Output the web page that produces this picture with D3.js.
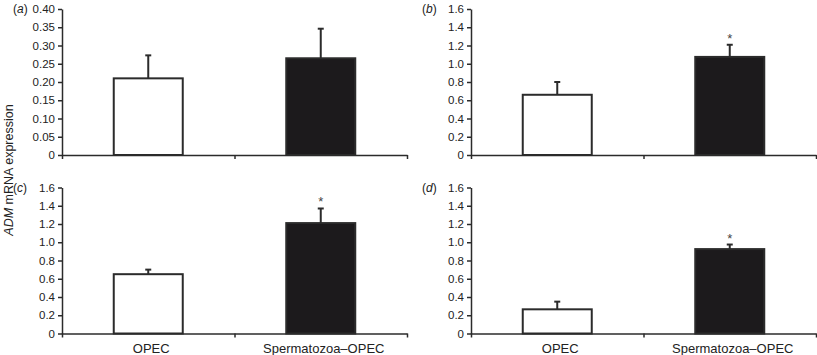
<!DOCTYPE html>
<html>
<head>
<meta charset="utf-8">
<script src="https://cdn.jsdelivr.net/npm/d3@7"></script>
<style>
  body { margin: 0; background: #fff; }
  svg { display: block; font-family: "Liberation Sans", Arial, Helvetica, sans-serif; }
</style>
</head>
<body>
<svg id="chart" width="817" height="355"></svg>
<script>
// data
const categories = ["OPEC", "Spermatozoa\u2013OPEC"];
const panelLabels = ["a", "b", "c", "d"];
const meansA = [0.21, 0.265];
const errA   = [0.063, 0.081];
const meansB = [0.66, 1.075];
const errB   = [0.14, 0.133];
const meansC = [0.65, 1.21];
const errC   = [0.05, 0.16];
const meansD = [0.265, 0.925];
const errD   = [0.084, 0.05];
const starsA = [false, false];
const starsB = [false, true];
const starsC = [false, true];
const starsD = [false, true];
const yTicksA = [0, 0.05, 0.10, 0.15, 0.20, 0.25, 0.30, 0.35, 0.40];
const yTicksBCD = [0, 0.2, 0.4, 0.6, 0.8, 1.0, 1.2, 1.4, 1.6];
const yTitle = ["ADM", " mRNA expression"];

const ink = "#2b2b2b";
const svg = d3.select("#chart");

const panels = [
  { label: panelLabels[0], means: meansA, err: errA, stars: starsA, ticks: yTicksA, fmt: d => d === 0 ? "0" : d3.format(".2f")(d), x0: 62,  y0: 9,     xLabels: false },
  { label: panelLabels[1], means: meansB, err: errB, stars: starsB, ticks: yTicksBCD, fmt: d => d === 0 ? "0" : d3.format(".1f")(d), x0: 471, y0: 9,     xLabels: false },
  { label: panelLabels[2], means: meansC, err: errC, stars: starsC, ticks: yTicksBCD, fmt: d => d === 0 ? "0" : d3.format(".1f")(d), x0: 62,  y0: 187.5, xLabels: true },
  { label: panelLabels[3], means: meansD, err: errD, stars: starsD, ticks: yTicksBCD, fmt: d => d === 0 ? "0" : d3.format(".1f")(d), x0: 471, y0: 187.5, xLabels: true }
];
const pw = 345, ph = 146;

panels.forEach(p => {
  const g = svg.append("g").attr("transform", `translate(${p.x0},${p.y0})`);

  const x = d3.scaleBand().domain(categories).range([0, pw])
    .paddingInner(0.6).paddingOuter(0.3);
  const xEdge = d3.scaleLinear().domain([0, categories.length]).range([0, pw]);
  const y = d3.scaleLinear().domain([0, d3.max(p.ticks)]).range([ph, 0]);

  // y axis
  const gy = g.append("g")
    .call(d3.axisLeft(y).tickValues(p.ticks).tickFormat(p.fmt).tickSize(4).tickPadding(3).tickSizeOuter(0));
  gy.select(".domain").attr("stroke", ink).attr("stroke-width", 1.5);
  gy.selectAll(".tick line").attr("stroke", ink).attr("stroke-width", 1.5);
  gy.selectAll(".tick text").attr("fill", "#222").style("font-size", "11.5px");

  const rows = categories.map((c, i) => ({ c, v: p.means[i], e: p.err[i], s: p.stars[i], i }));

  // error bars (upper only)
  const eb = g.selectAll(".eb").data(rows).join("g").attr("class", "eb");
  eb.append("line")
    .attr("x1", d => x(d.c) + x.bandwidth() / 2)
    .attr("x2", d => x(d.c) + x.bandwidth() / 2)
    .attr("y1", d => y(d.v))
    .attr("y2", d => y(d.v + d.e))
    .attr("stroke", ink).attr("stroke-width", 2);
  eb.append("line")
    .attr("x1", d => x(d.c) + x.bandwidth() / 2 - 3)
    .attr("x2", d => x(d.c) + x.bandwidth() / 2 + 3)
    .attr("y1", d => y(d.v + d.e))
    .attr("y2", d => y(d.v + d.e))
    .attr("stroke", ink).attr("stroke-width", 2);

  // bars
  g.selectAll(".bar").data(rows).join("rect").attr("class", "bar")
    .attr("x", d => x(d.c))
    .attr("width", x.bandwidth())
    .attr("y", d => y(d.v))
    .attr("height", d => ph - y(d.v))
    .attr("fill", d => d.i === 0 ? "#fff" : "#1c1a1c")
    .attr("stroke", ink).attr("stroke-width", 2);

  // significance stars
  g.selectAll(".star").data(rows.filter(d => d.s)).join("text").attr("class", "star")
    .attr("x", d => x(d.c) + x.bandwidth() / 2)
    .attr("y", d => y(d.v + d.e) - 2)
    .attr("text-anchor", "middle")
    .attr("fill", "#444")
    .style("font-size", "13px")
    .text("*");

  // x axis: baseline with ticks between categories
  const gx = g.append("g").attr("transform", `translate(0,${ph})`)
    .call(d3.axisBottom(xEdge).tickValues(d3.range(0, categories.length + 1)).tickFormat("").tickSize(4).tickSizeOuter(0));
  gx.select(".domain").attr("stroke", ink).attr("stroke-width", 1.5);
  gx.selectAll(".tick line").attr("stroke", ink).attr("stroke-width", 1.5);

  if (p.xLabels) {
    const gl = g.append("g").attr("transform", `translate(3,${ph})`)
      .call(d3.axisBottom(x).tickSize(0).tickPadding(10));
    gl.select(".domain").remove();
    gl.selectAll(".tick text").attr("fill", "#222").style("font-size", "13px");
  }

  // panel label
  g.append("text")
    .attr("x", -49).attr("y", y(d3.max(p.ticks)))
    .attr("dy", "0.35em")
    .attr("fill", "#222")
    .style("font-size", "12px")
    .call(t => {
      t.append("tspan").text("(");
      t.append("tspan").attr("font-style", "italic").text(p.label);
      t.append("tspan").text(")");
    });
});

// shared y-axis title
const title = svg.append("text")
  .attr("transform", "translate(13,170) rotate(-90)")
  .attr("text-anchor", "middle")
  .attr("fill", "#222")
  .style("font-size", "12.5px");
title.append("tspan").attr("font-style", "italic").text(yTitle[0]);
title.append("tspan").text(yTitle[1]);
</script>
</body>
</html>
